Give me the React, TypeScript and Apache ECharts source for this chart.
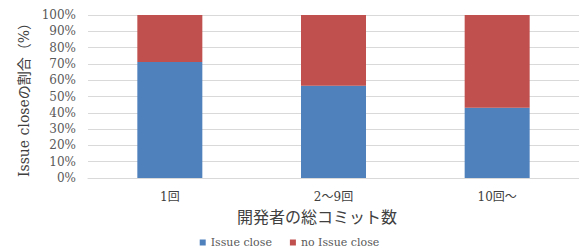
import React, { useEffect, useRef } from "react";
import * as echarts from "echarts";

const categories = ["1回", "2〜9回", "10回〜"];
const issueClose = [71.2, 56.6, 43.1];
const noIssueClose = [28.8, 43.4, 56.9];
const seriesNames = ["Issue close", "no Issue close"];
const xAxisTitle = "開発者の総コミット数";
const yAxisTitle = "Issue closeの割合（%）";

const SERIF = "'DejaVu Serif', 'Liberation Serif', 'Noto Sans CJK JP', serif";

export default function App() {
  const ref = useRef<HTMLDivElement>(null);
  useEffect(() => {
    if (!ref.current) return;
    const chart = echarts.init(ref.current, undefined, { renderer: "svg" });
    chart.setOption({
      animation: false,
      grid: { left: 88, right: 0, top: 15, bottom: 74 },
      legend: {
        bottom: -1,
        left: "center",
        icon: "rect",
        itemWidth: 6,
        itemHeight: 6,
        itemGap: 18,
        textStyle: { fontFamily: SERIF, fontSize: 11, color: "#595959" },
        data: seriesNames,
      },
      xAxis: {
        type: "category",
        data: categories,
        axisLine: { lineStyle: { color: "#D9D9D9" } },
        axisTick: { show: false },
        axisLabel: { fontFamily: SERIF, fontSize: 12, color: "#404040", margin: 13 },
        name: xAxisTitle,
        nameLocation: "middle",
        nameGap: 29,
        nameTextStyle: {
          fontFamily: "'Noto Sans CJK JP', serif",
          fontSize: 16,
          color: "#404040",
          padding: [0, 33, 0, 0],
        },
      },
      yAxis: {
        type: "value",
        min: 0,
        max: 100,
        interval: 10,
        axisLabel: {
          formatter: "{value}%",
          fontFamily: SERIF,
          fontSize: 12,
          color: "#595959",
          margin: 12,
        },
        splitLine: { lineStyle: { color: "#D9D9D9" } },
        axisLine: { show: false },
        axisTick: { show: false },
        name: yAxisTitle,
        nameLocation: "middle",
        nameGap: 56,
        nameTextStyle: { fontFamily: SERIF, fontSize: 14, color: "#404040" },
      },
      series: [
        {
          name: seriesNames[0],
          type: "bar",
          stack: "total",
          data: issueClose,
          barWidth: 65,
          itemStyle: { color: "#4F81BD" },
        },
        {
          name: seriesNames[1],
          type: "bar",
          stack: "total",
          data: noIssueClose,
          barWidth: 65,
          itemStyle: { color: "#C0504D" },
        },
      ],
    });
    return () => chart.dispose();
  }, []);
  return <div ref={ref} style={{ width: 579, height: 252, position: "absolute", left: 0, top: 0 }} />;
}
